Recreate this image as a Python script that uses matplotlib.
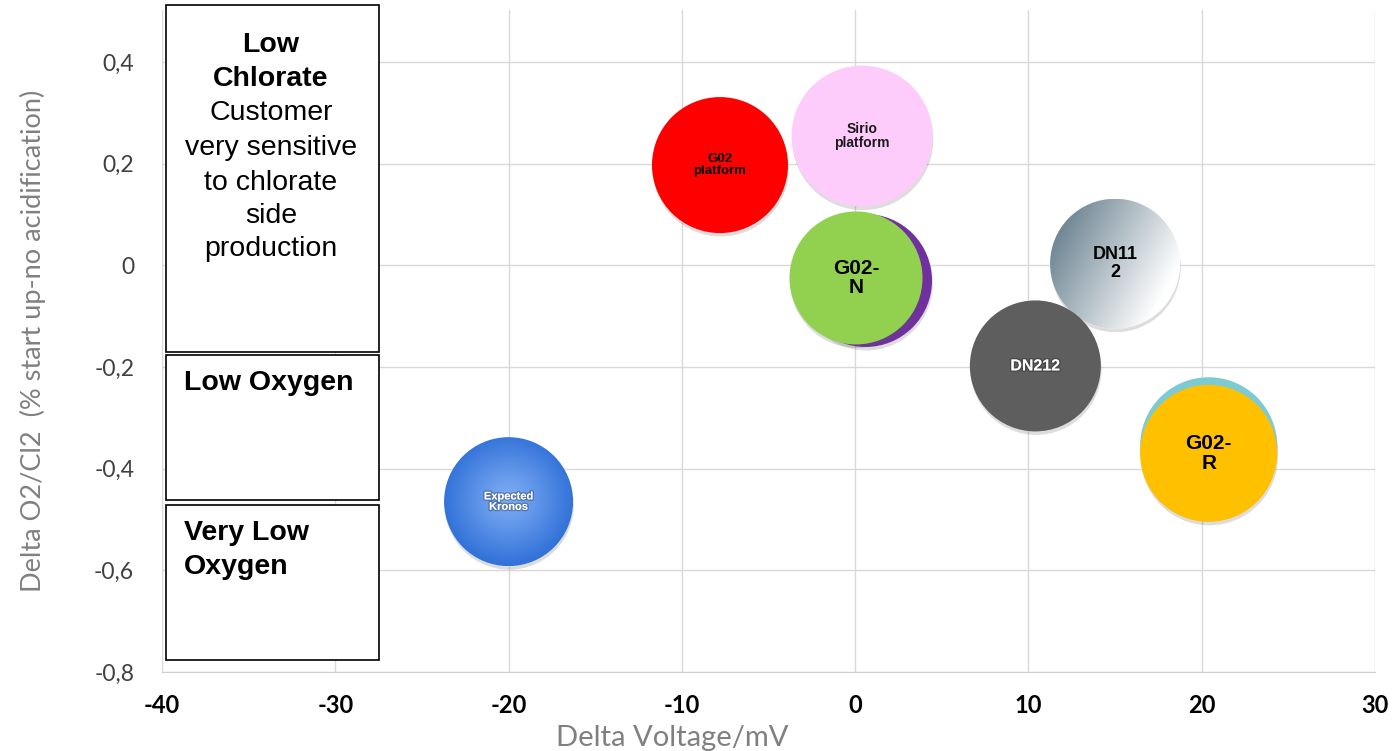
import numpy as np
import matplotlib
matplotlib.use("Agg")
import matplotlib.pyplot as plt
import matplotlib.patheffects as pe
from matplotlib.patches import Rectangle, Circle
from matplotlib.transforms import ScaledTranslation

# bubble data
names = ["G02\nplatform", "Sirio\nplatform", "", "G02-\nN", "DN11\n2", "DN212", "", "G02-\nR", "Expected\nKronos"]
delta_v = [-7.8, 0.4, 0.6, 0.05, 15.0, 10.4, 20.4, 20.4, -20.0]
delta_o2 = [0.197, 0.254, -0.03, -0.025, 0.003, -0.198, -0.355, -0.37, -0.465]
bubble_size = [136, 141, 133, 133, 130, 131, 137, 137, 129]
colors = ["#ff0000", "#fdccfb", "#7030a0", "#92d050", "grad_grey", "#5e5e5e", "#7ccbd3", "#ffc000", "grad_blue"]
label_size = [9.5, 10, 10, 15, 13, 11.5, 10, 15, 8]
label_color = ["black", "#1a1a1a", "black", "black", "black", "white", "black", "black", "white"]

xticks = [-40, -30, -20, -10, 0, 10, 20, 30]
yticks = [-0.8, -0.6, -0.4, -0.2, 0, 0.2, 0.4]
yticklabels = ["-0,8", "-0,6", "-0,4", "-0,2", "0", "0,2", "0,4"]

# region boxes on the left (y ranges)
regions = [(-0.171, 0.512), (-0.462, -0.177), (-0.776, -0.472)]

fig = plt.figure(figsize=(13.94, 7.51), dpi=100)
ax = fig.add_axes([162 / 1394, 79 / 751, (1375 - 162) / 1394, 662 / 751])

ax.set_xticks(xticks)
ax.set_xticklabels([str(t) for t in xticks], fontfamily="Lato", fontweight="bold", fontsize=17, color="black")
ax.set_yticks(yticks)
ax.set_yticklabels(yticklabels, fontfamily="Lato", fontsize=16.5, color="#404040")
ax.tick_params(axis="both", length=0)
ax.tick_params(axis="x", pad=16)
ax.tick_params(axis="y", pad=20)
ax.grid(True, color="#d9d9d9", lw=1)
ax.set_axisbelow(True)
for s in ["top", "right", "left"]:
    ax.spines[s].set_visible(False)
ax.spines["bottom"].set_color("#d0d0d0")

ax.set_xlabel("Delta Voltage/mV", fontfamily="Lato", fontsize=21, color="#808080")
ax.xaxis.set_label_coords(0.421, -0.08)
ax.set_ylabel("Delta O2/Cl2  (% start up-no acidification)", fontfamily="Lato", fontsize=19.5, color="#808080")
ax.yaxis.set_label_coords(-0.096, 0.5)

shadow = [pe.SimplePatchShadow(offset=(0.5, -2.5), shadow_rgbFace="#555555", alpha=0.2), pe.Normal()]


def gradient_img(kind, n=200):
    X, Y = np.meshgrid(np.linspace(0, 1, n), np.linspace(0, 1, n))
    if kind == "grad_grey":
        dark = np.clip(0.85 - 0.85 * X + 0.45 * (Y - 0.5), 0, 1)[..., None]
        slate = np.array([0.38, 0.48, 0.54])
        return 1 - dark * (1 - slate)
    r = np.clip(np.hypot(X - 0.5, Y - 0.52) / 0.5, 0, 1)[..., None]
    inner = np.array([0.50, 0.68, 0.96])
    outer = np.array([0.20, 0.45, 0.85])
    return inner + (outer - inner) * r ** 1.1


for i in range(len(names)):
    c = colors[i]
    d_pt = bubble_size[i] * 0.72
    if c.startswith("grad"):
        ax.scatter(delta_v[i], delta_o2[i], s=d_pt ** 2, color="white", lw=0, path_effects=shadow, zorder=2 + i)
        r_in = bubble_size[i] / 200
        tr = fig.dpi_scale_trans + ScaledTranslation(delta_v[i], delta_o2[i], ax.transData)
        im = ax.imshow(gradient_img(c), extent=(-r_in, r_in, -r_in, r_in), origin="lower",
                       interpolation="bilinear", aspect="auto", zorder=2 + i + 0.5)
        im.set_transform(tr)
        clip = Circle((0, 0), r_in, transform=tr, facecolor="none", edgecolor="none")
        ax.add_patch(clip)
        im.set_clip_path(clip)
    else:
        ax.scatter(delta_v[i], delta_o2[i], s=d_pt ** 2, color=c, lw=0, path_effects=shadow, zorder=2 + i)
    if names[i]:
        txt = ax.text(delta_v[i], delta_o2[i], names[i], ha="center", va="center", fontsize=label_size[i],
                      fontweight="bold", color=label_color[i], fontfamily="Liberation Sans",
                      linespacing=1.05, zorder=20)
        if label_color[i] == "white":
            txt.set_path_effects([pe.withStroke(linewidth=2, foreground="#00000040")])

ax.set_aspect("auto")
ax.set_xlim(-40, 30)
ax.set_ylim(-0.8, 0.502)

# left region boxes
for y0, y1 in regions:
    ax.add_patch(Rectangle((-39.78, y0), 12.3, y1 - y0, facecolor="white", edgecolor="black",
                           lw=1.2, clip_on=False, zorder=25))


def ftext(px, py, s, bold=False, ha="center"):
    fig.text(px / 1394, 1 - py / 751, s, ha=ha, va="center", fontsize=20.5,
             fontfamily="Liberation Sans", fontweight="bold" if bold else "normal", zorder=30)


ftext(271, 45, "Low", True)
ftext(271, 79, "Chlorate", True)
for py, s in zip([113, 148, 183, 216, 249], ["Customer", "very sensitive", "to chlorate", "side", "production"]):
    ftext(271, py, s)
ftext(184, 383, "Low Oxygen", True, "left")
ftext(184, 533, "Very Low", True, "left")
ftext(184, 567, "Oxygen", True, "left")

fig.savefig("out.png", dpi=100)
